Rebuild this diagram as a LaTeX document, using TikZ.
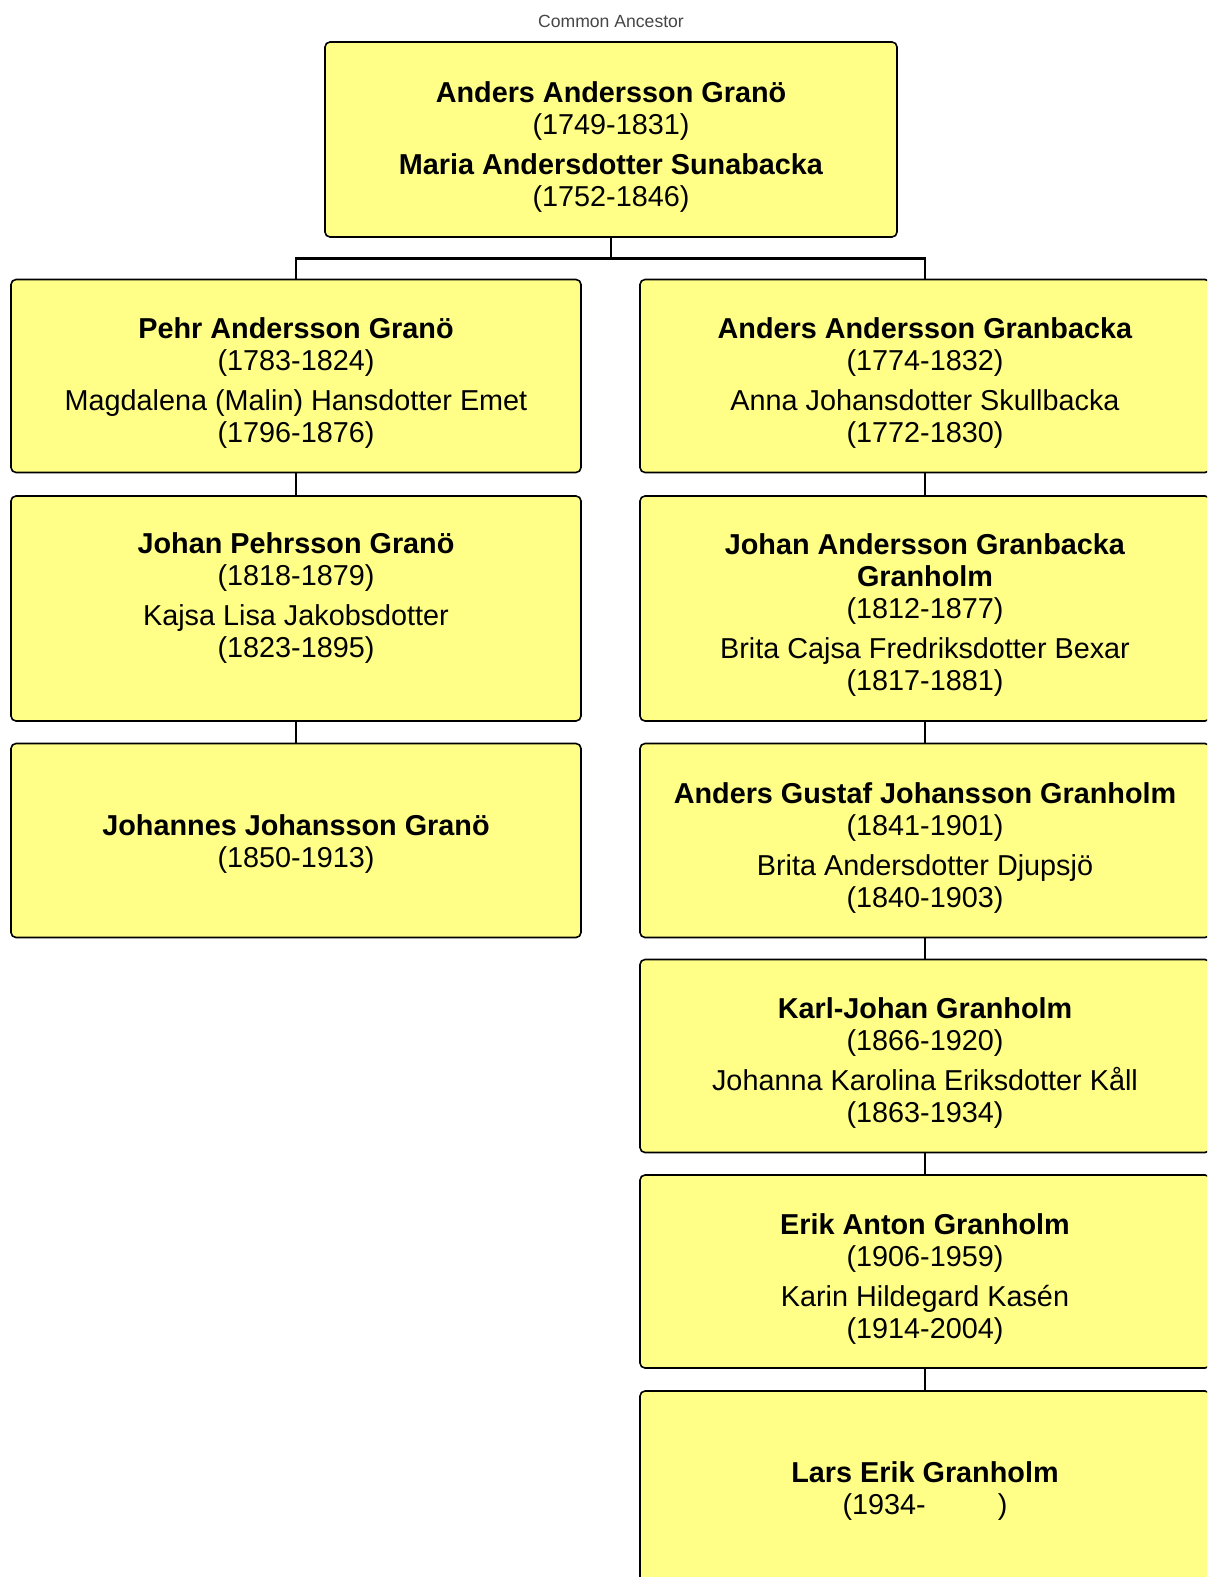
\documentclass[tikz,border=0pt]{standalone}
\usepackage{fontspec}
\setmainfont{Liberation Sans}
\definecolor{boxyellow}{RGB}{255,255,136}
\definecolor{labelgray}{RGB}{70,70,70}
\tikzset{
  person/.style={draw, line width=0.8pt, rounded corners=2.5pt, fill=boxyellow,
    align=center, inner sep=0pt, minimum width=285pt,
    font=\fontsize{14.4}{16}\selectfont},
  famline/.style={line width=1.4pt},
}
\newcommand{\nm}[1]{\textbf{#1}}
\newcommand{\toppad}[1]{\rule{0pt}{#1}}
\newcommand{\botpad}[1]{\rule[-#1]{0pt}{#1}}

\begin{document}
\begin{tikzpicture}[x=0.5pt,y=-0.5pt]
  \clip (0,0) rectangle (1207,1577);
  \fill[white] (0,0) rectangle (1207,1577);
  \node[font=\fontsize{8.8}{10}\selectfont, text=labelgray] (title) at (611,21) {Common Ancestor};
  % couple at the top
  \node[person, minimum width=286pt, minimum height=97.5pt] (anc) at (611,139.5)
    {\toppad{18pt}\nm{Anders Andersson Granö}\\(1749-1831)\\[4pt]\nm{Maria Andersdotter Sunabacka}\\(1752-1846)};
  % left line
  \node[person, minimum height=96.5pt] (pehr) at (296,376)
    {\toppad{17.5pt}\nm{Pehr Andersson Granö}\\(1783-1824)\\[4pt]Magdalena (Malin) Hansdotter Emet\\(1796-1876)};
  \node[person, minimum height=112.5pt] (johanp) at (296,608.5)
    {\nm{Johan Pehrsson Granö}\\(1818-1879)\\[4pt]Kajsa Lisa Jakobsdotter\\(1823-1895)\botpad{13pt}};
  \node[person, minimum height=97pt] (johannes) at (296,840.5)
    {\toppad{13.5pt}\nm{Johannes Johansson Granö}\\(1850-1913)};
  % right line
  \node[person, minimum height=96.5pt] (andersg) at (925,376)
    {\toppad{17.5pt}\nm{Anders Andersson Granbacka}\\(1774-1832)\\[4pt]Anna Johansdotter Skullbacka\\(1772-1830)};
  \node[person, minimum height=112.5pt] (johana) at (925,608.5)
    {\toppad{16.5pt}\nm{Johan Andersson Granbacka}\\\nm{Granholm}\\(1812-1877)\\[4pt]Brita Cajsa Fredriksdotter Bexar\\(1817-1881)};
  \node[person, minimum height=97pt] (gustaf) at (925,840.5)
    {\toppad{17.5pt}\nm{Anders Gustaf Johansson Granholm}\\(1841-1901)\\[4pt]Brita Andersdotter Djupsjö\\(1840-1903)};
  \node[person, minimum height=96.5pt] (karl) at (925,1056)
    {\toppad{17.5pt}\nm{Karl-Johan Granholm}\\(1866-1920)\\[4pt]Johanna Karolina Eriksdotter Kåll\\(1863-1934)};
  \node[person, minimum height=96.5pt] (erik) at (925,1271.5)
    {\toppad{17.5pt}\nm{Erik Anton Granholm}\\(1906-1959)\\[4pt]Karin Hildegard Kasén\\(1914-2004)};
  \node[person, minimum height=97.5pt] (lars) at (925,1488.5)
    {\toppad{12.5pt}\nm{Lars Erik Granholm}\\(1934-\hspace{36pt})};
  % connectors
  \coordinate (fork) at (611,258.5);
  \draw[famline] (anc.south) -- (fork);
  \draw[famline] (pehr.north) |- (fork) -| (andersg.north);
  \draw[famline] (pehr.south) -- (johanp.north);
  \draw[famline] (johanp.south) -- (johannes.north);
  \draw[famline] (andersg.south) -- (johana.north);
  \draw[famline] (johana.south) -- (gustaf.north);
  \draw[famline] (gustaf.south) -- (karl.north);
  \draw[famline] (karl.south) -- (erik.north);
  \draw[famline] (erik.south) -- (lars.north);
\end{tikzpicture}
\end{document}
